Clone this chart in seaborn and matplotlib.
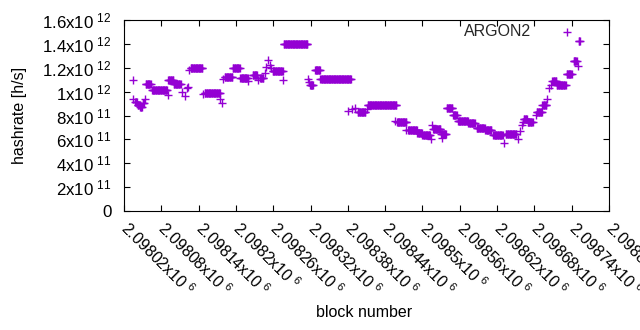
import numpy as np
import pandas as pd
import matplotlib
matplotlib.use("Agg")
import matplotlib.pyplot as plt
import seaborn as sns

# ---- data ----
BLOCK_BASE = 2098000
# runs of consecutive blocks sharing one hashrate value (block offsets from BLOCK_BASE)
run_start = [34, 35, 38, 42, 46, 50, 53, 55, 65, 90, 91, 100, 113, 118, 121, 123, 125, 127,
             147, 150, 175, 177, 180, 182, 195, 207, 220, 227, 235, 239, 246, 248, 251, 255,
             257, 259, 276, 277, 316, 318, 319, 327, 336, 381, 386, 391, 396, 410, 412, 456,
             459, 473, 477, 492, 500, 514, 516, 517, 530, 532, 539, 549, 557, 574, 587, 601,
             614, 631, 634, 654, 657, 660, 662, 663, 669, 683, 684, 693, 701, 704, 707, 709,
             716, 731, 732, 743, 750, 751]
run_end = [34, 35, 41, 45, 49, 52, 53, 63, 89, 90, 99, 111, 113, 118, 121, 123, 125, 146,
           147, 174, 175, 177, 180, 194, 206, 219, 220, 234, 235, 244, 246, 248, 251, 255,
           257, 275, 276, 315, 316, 318, 324, 335, 385, 381, 386, 391, 408, 410, 458, 456,
           474, 473, 491, 499, 512, 514, 516, 529, 538, 532, 548, 555, 573, 584, 600, 611,
           629, 631, 651, 654, 657, 660, 662, 668, 677, 683, 692, 699, 701, 704, 707, 715,
           729, 731, 740, 748, 750, 753]
# hashrate in units of 1e11 h/s
run_value = [10.94, 9.35, 9.15, 8.9, 8.7, 9.05, 9.35, 10.66, 10.1, 9.68, 10.94, 10.66, 10.0,
             9.6, 10.27, 10.38, 11.77, 11.97, 9.82, 9.91, 9.35, 9.07, 11.08, 11.21, 12.0,
             11.16, 10.85, 11.36, 10.94, 11.1, 11.58, 12.05, 12.61, 12.19, 11.97, 11.69,
             10.94, 14.01, 11.08, 10.8, 10.58, 11.83, 11.02, 8.41, 8.57, 8.65, 8.28, 8.57,
             8.85, 7.53, 7.45, 6.81, 6.75, 6.53, 6.33, 6.06, 7.17, 6.9, 6.48, 6.14, 8.65,
             8.01, 7.53, 7.34, 6.98, 6.75, 6.33, 5.69, 6.48, 6.06, 6.67, 7.17, 7.45, 7.73,
             7.45, 8.01, 8.28, 8.9, 9.41, 10.29, 10.52, 10.88, 10.52, 10.58, 11.5, 12.53,
             12.13, 14.26]

series_name = "ARGON2"
x_tick_values = [2098020, 2098080, 2098140, 2098200, 2098260, 2098320, 2098380,
                 2098440, 2098500, 2098560, 2098620, 2098680, 2098740, 2098800]
x_tick_mantissa = ["2.09802", "2.09808", "2.09814", "2.0982", "2.09826", "2.09832", "2.09838",
                   "2.09844", "2.0985", "2.09856", "2.09862", "2.09868", "2.09874", "2.0988"]
y_tick_values = [0, 2e11, 4e11, 6e11, 8e11, 1e12, 1.2e12, 1.4e12, 1.6e12]
y_tick_text = ["0", "2x10^11", "4x10^11", "6x10^11", "8x10^11", "1x10^12",
               "1.2x10^12", "1.4x10^12", "1.6x10^12"]

blocks, values = [], []
for s, e, v in zip(run_start, run_end, run_value):
    for b in range(s, e + 1):
        blocks.append(BLOCK_BASE + b)
        values.append(v * 1e11)
df = pd.DataFrame({"block": blocks, "hashrate": values})

# ---- style ----
sns.set_theme(style="ticks")
plt.rcParams["font.family"] = ["Liberation Sans", "DejaVu Sans"]
plt.rcParams["mathtext.fontset"] = "custom"
plt.rcParams["mathtext.rm"] = "Liberation Sans"
plt.rcParams["mathtext.it"] = "Liberation Sans:italic"
plt.rcParams["mathtext.bf"] = "Liberation Sans:bold"

FS = 11.5
color = "#9400d3"

fig = plt.figure(figsize=(6.4, 3.3), dpi=100)
ax = fig.add_axes([124 / 640, 1 - 211 / 330, 485 / 640, 191 / 330])

sns.scatterplot(data=df, x="block", y="hashrate", marker="+", s=26, color=color,
                linewidth=1.0, label=series_name, ax=ax, zorder=3)

ax.set_xlim(2098020, 2098800)
ax.set_ylim(0, 1.6e12)


def mt(s):
    if "^" in s:
        base, exp = s.split("^")
        return r"$\mathregular{" + base + r"\;^{" + exp + r"}}$"
    return s


ax.set_xticks(x_tick_values)
ax.set_xticklabels([mt(m + "x10^6") for m in x_tick_mantissa], fontsize=FS)
ax.set_yticks(y_tick_values)
ax.set_yticklabels([mt(t) for t in y_tick_text], fontsize=12.2)

for lab in ax.get_xticklabels():
    lab.set_rotation(-45)
    lab.set_ha("left")
    lab.set_va("center")
    lab.set_rotation_mode("anchor")

ax.tick_params(axis="both", direction="in", length=4.5, width=0.8, color="black",
               top=True, right=True, labelcolor="black")
ax.tick_params(axis="x", pad=10)
ax.tick_params(axis="y", pad=9)
for sp in ax.spines.values():
    sp.set_visible(True)
    sp.set_color("black")
    sp.set_linewidth(0.8)

ax.set_xlabel("block number", fontsize=FS, color="black")
ax.set_ylabel("hashrate [h/s]", fontsize=FS, color="black")
ax.xaxis.set_label_coords(0.495, -0.49)
ax.yaxis.set_label_coords(-0.2, 0.5)

leg = ax.legend(loc="upper right", bbox_to_anchor=(0.961, 0.979), frameon=False,
                markerfirst=False, fontsize=FS, borderaxespad=0, borderpad=0,
                handlelength=2.9, handletextpad=0.8)

fig.savefig("out.png", dpi=100)
